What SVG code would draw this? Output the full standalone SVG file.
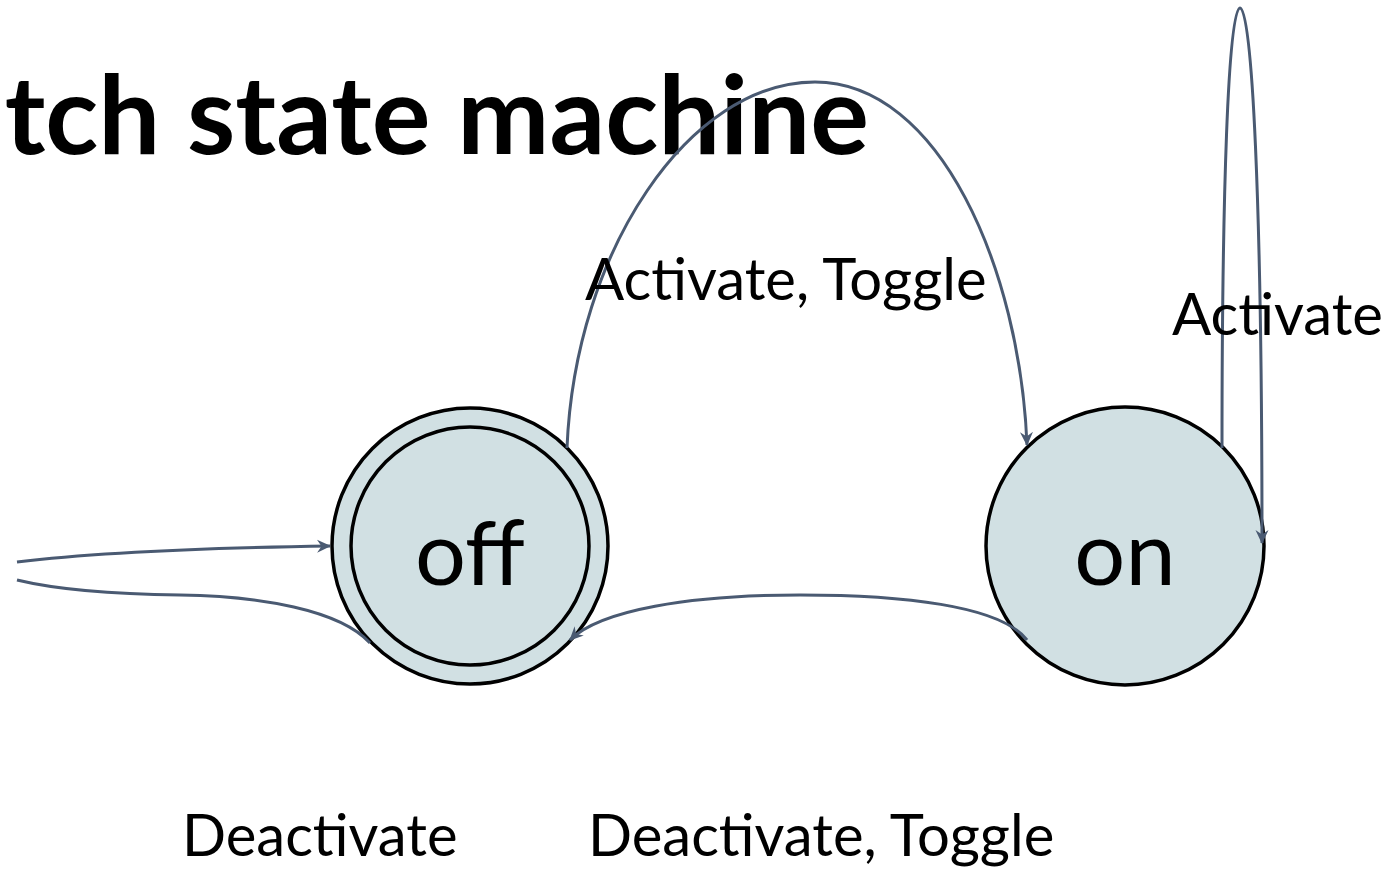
<svg xmlns="http://www.w3.org/2000/svg" width="1387" height="873" viewBox="0 0 1387 873">
  <style>
    .title { font-family: Lato, "Liberation Sans", sans-serif; font-weight: 700; font-size: 110px; fill: #000; }
    .state { fill: #d1e0e3; stroke: #000; stroke-width: 3.5; }
    .state-label { font-family: Lato, "Liberation Sans", sans-serif; font-size: 90px; fill: #000; text-anchor: middle; }
    .edge { fill: none; stroke: #4a5a72; stroke-width: 3; }
    .edge-label { font-family: Lato, "Liberation Sans", sans-serif; font-size: 58px; fill: #000; }
  </style>
  <defs>
    <marker id="arrow" markerUnits="userSpaceOnUse" markerWidth="16" markerHeight="16" refX="13" refY="8" orient="auto">
      <path d="M0,1.5 L14,8 L0,14.5 L4.5,8 Z" fill="#4a5a72"/>
    </marker>
  </defs>

  <rect width="1387" height="873" fill="#ffffff"/>

  <text class="title" x="869" y="154" text-anchor="end">Switch state machine</text>

  <!-- states -->
  <g id="state-off">
    <circle class="state" cx="470" cy="546" r="138"/>
    <circle class="state" cx="470" cy="546" r="119" stroke-width="5"/>
    <text class="state-label" x="470" y="585">off</text>
  </g>
  <g id="state-on">
    <circle class="state" cx="1125" cy="546" r="139"/>
    <text class="state-label" x="1125" y="585">on</text>
  </g>

  <!-- transitions -->
  <g id="transitions">
    <!-- off -> off : Deactivate -->
    <path class="edge" d="M370 643 C340 610 260 596 180 595 C100 594 50 588 17 580 M17 562 C100 552 200 548 330 546" marker-end="url(#arrow)"/>
    <!-- off -> on : Activate, Toggle -->
    <path class="edge" d="M567 448 C575 250 690 82 815 82 C940 82 1020 270 1027 445" marker-end="url(#arrow)"/>
    <!-- on -> off : Deactivate, Toggle -->
    <path class="edge" d="M1027 640 C1000 605 900 595 800 595 C690 595 600 610 570 640" marker-end="url(#arrow)"/>
    <!-- on -> on : Activate -->
    <path class="edge" d="M1222 448 C1222 200 1228 8 1240 8 C1252 8 1262 200 1262 543" marker-end="url(#arrow)"/>
  </g>

  <g id="labels">
    <text class="edge-label" x="585" y="300">Activate, Toggle</text>
    <text class="edge-label" x="1172" y="335">Activate</text>
    <text class="edge-label" x="182" y="856">Deactivate</text>
    <text class="edge-label" x="588" y="856">Deactivate, Toggle</text>
  </g>
</svg>
